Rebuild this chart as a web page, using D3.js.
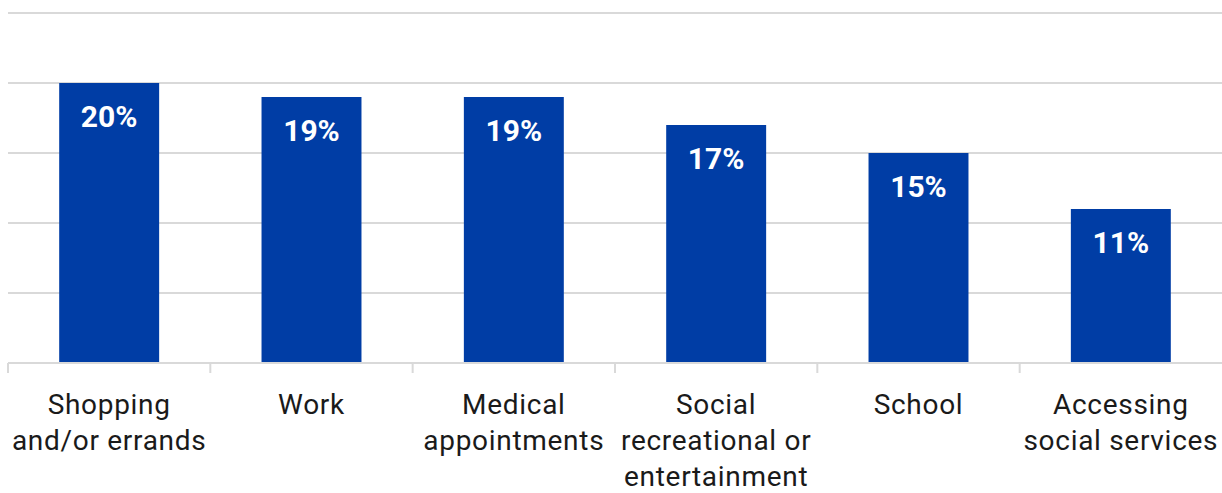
<!DOCTYPE html>
<html><head><meta charset="utf-8">
<script src="https://cdn.jsdelivr.net/npm/d3@7"></script>
<style>body{margin:0;background:#fff}svg{display:block}</style>
</head><body>
<svg id="c" width="1222" height="493"></svg>
<script>
const categories = [["Shopping","and/or errands"],["Work"],["Medical","appointments"],["Social","recreational or","entertainment"],["School"],["Accessing","social services"]];
const values = [20, 19, 19, 17, 15, 11];
const gridTicks = [0, 5, 10, 15, 20, 25];

const svg = d3.select("#c");
const keys = categories.map(c => c.join(" "));
const x = d3.scaleBand().domain(keys).range([8, 1222]).paddingInner(0.506).paddingOuter(0.253);
const y = d3.scaleLinear().domain([0, 25]).range([363, 13]);
const font = "Roboto, 'DejaVu Sans', sans-serif";

svg.append("g").selectAll("line").data(gridTicks.slice(1)).join("line")
  .attr("x1", 8).attr("x2", 1222).attr("y1", d => y(d)).attr("y2", d => y(d))
  .attr("stroke", "#d9d9d9").attr("stroke-width", 2);

svg.append("g").selectAll("rect").data(values).join("rect")
  .attr("x", (d, i) => x(keys[i])).attr("width", x.bandwidth())
  .attr("y", d => y(d)).attr("height", d => y(0) - y(d))
  .attr("fill", "#003da5");

svg.append("g").selectAll("text").data(values).join("text")
  .attr("x", (d, i) => x(keys[i]) + x.bandwidth() / 2)
  .attr("y", d => y(d) + 44)
  .attr("text-anchor", "middle").attr("fill", "#fff")
  .attr("font-family", font).attr("font-weight", "bold").attr("font-size", 30)
  .text(d => d + "%");

// baseline and ticks
svg.append("line").attr("x1", 8).attr("x2", 1222).attr("y1", y(0)).attr("y2", y(0))
  .attr("stroke", "#d9d9d9").attr("stroke-width", 2);
const step = x.step();
const tickX = keys.map((k, i) => x(k) - x.paddingInner() * step / 2);
svg.append("g").selectAll("line").data(tickX).join("line")
  .attr("x1", d => d).attr("x2", d => d).attr("y1", y(0)).attr("y2", y(0) + 10)
  .attr("stroke", "#d9d9d9").attr("stroke-width", 2);

const lab = svg.append("g").selectAll("text").data(categories).join("text")
  .attr("x", (d, i) => x(keys[i]) + x.bandwidth() / 2)
  .attr("y", 414)
  .attr("text-anchor", "middle").attr("fill", "#1a1a1a")
  .attr("font-family", font).attr("font-size", 28).attr("letter-spacing", 0.7);
lab.selectAll("tspan").data(d => d).join("tspan")
  .attr("x", function() { return this.parentNode.getAttribute("x"); })
  .attr("dy", (d, i) => i === 0 ? 0 : 36)
  .text(d => d);
</script>
</body></html>
